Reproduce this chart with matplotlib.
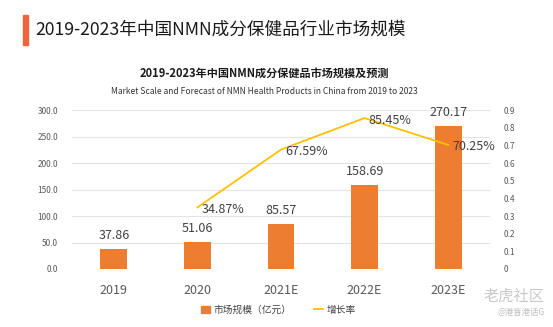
import matplotlib.pyplot as plt
from matplotlib.patches import Rectangle
from matplotlib.lines import Line2D

plt.rcParams['font.family'] = ['Noto Sans CJK SC', 'DejaVu Sans']

years = ['2019', '2020', '2021E', '2022E', '2023E']
scale = [37.86, 51.06, 85.57, 158.69, 270.17]
growth_years = ['2020', '2021E', '2022E', '2023E']
growth = [0.3487, 0.6759, 0.8545, 0.7025]

bar_color = '#ED7D31'
line_color = '#FFC000'
txt = '#404040'

fig = plt.figure(figsize=(5.53, 3.27), dpi=100)

# header
fig.patches.append(Rectangle((23 / 553, 1 - 45 / 327), 5 / 553, 30 / 327,
                             transform=fig.transFigure, color='#F0643C'))
fig.text(35 / 553, 1 - 30 / 327, '2019-2023年中国NMN成分保健品行业市场规模',
         fontsize=12.7, fontweight='medium', va='center', ha='left', color='#1a1a1a')
fig.text(264 / 553, 1 - 73 / 327, '2019-2023年中国NMN成分保健品市场规模及预测',
         fontsize=8.0, fontweight='bold', ha='center', va='center', color='#1a1a1a')
fig.text(264 / 553, 1 - 91 / 327,
         'Market Scale and Forecast of NMN Health Products in China from 2019 to 2023',
         fontsize=6.1, ha='center', va='center', color='#333333')

ax = fig.add_axes([72 / 553, 1 - 269 / 327, 418 / 553, 159 / 327])
x = list(range(len(years)))
bars = ax.bar(x, scale, width=0.32, color=bar_color, zorder=2)
ax.set_ylim(0, 300)
ax.set_xlim(-0.5, len(years) - 0.5)
ax.set_yticks([0, 50, 100, 150, 200, 250, 300])
ax.set_yticklabels([f'{v:.1f}' for v in [0, 50, 100, 150, 200, 250, 300]])
ax.set_xticks(x)
ax.set_xticklabels(years)
ax.tick_params(axis='y', length=0, labelsize=6, labelcolor='#595959', pad=10)
ax.tick_params(axis='x', length=0, labelsize=9, labelcolor='#595959', pad=11)
ax.grid(axis='y', color='#E4E4E4', linewidth=0.8, zorder=0)
for s in ax.spines.values():
    s.set_visible(False)
for xi, v in zip(x, scale):
    ax.annotate(f'{v:.2f}', (xi, v), xytext=(0, 5), textcoords='offset points',
                ha='center', va='bottom', fontsize=9, color=txt)

ax2 = ax.twinx()
gx = [years.index(y) for y in growth_years]
ax2.plot(gx, growth, color=line_color, linewidth=1.3, zorder=3)
ax2.set_ylim(0, 0.9)
ticks2 = [i / 10 for i in range(10)]
ax2.set_yticks(ticks2)
ax2.set_yticklabels(['0'] + [f'{t:.1f}' for t in ticks2[1:]])
ax2.tick_params(axis='y', length=0, labelsize=6, labelcolor='#595959', pad=10)
for s in ax2.spines.values():
    s.set_visible(False)
for xi, v in zip(gx, growth):
    ax2.annotate(f'{v * 100:.2f}%', (xi, v), xytext=(3, -1.5), textcoords='offset points',
                 ha='left', va='center', fontsize=9, color=txt)

# legend
handles = [Rectangle((0, 0), 1, 1, color=bar_color),
           Line2D([0], [0], color=line_color, linewidth=1.3)]
fig.legend(handles, ['市场规模（亿元）', '增长率'], loc='center',
           bbox_to_anchor=(278 / 553, 1 - 310 / 327), ncol=2, frameon=False,
           fontsize=7, handlelength=1.0, handleheight=0.8, columnspacing=2.3,
           handletextpad=0.3, labelcolor='#404040')

# watermark
fig.text(545 / 553, 1 - 296 / 327, '老虎社区', fontsize=11, color='#C8C8C8',
         ha='right', va='center')
fig.text(545 / 553, 1 - 313 / 327, '@港盲港话G', fontsize=6, color='#BDBDBD',
         ha='right', va='center')

fig.savefig('out.png', dpi=100)
